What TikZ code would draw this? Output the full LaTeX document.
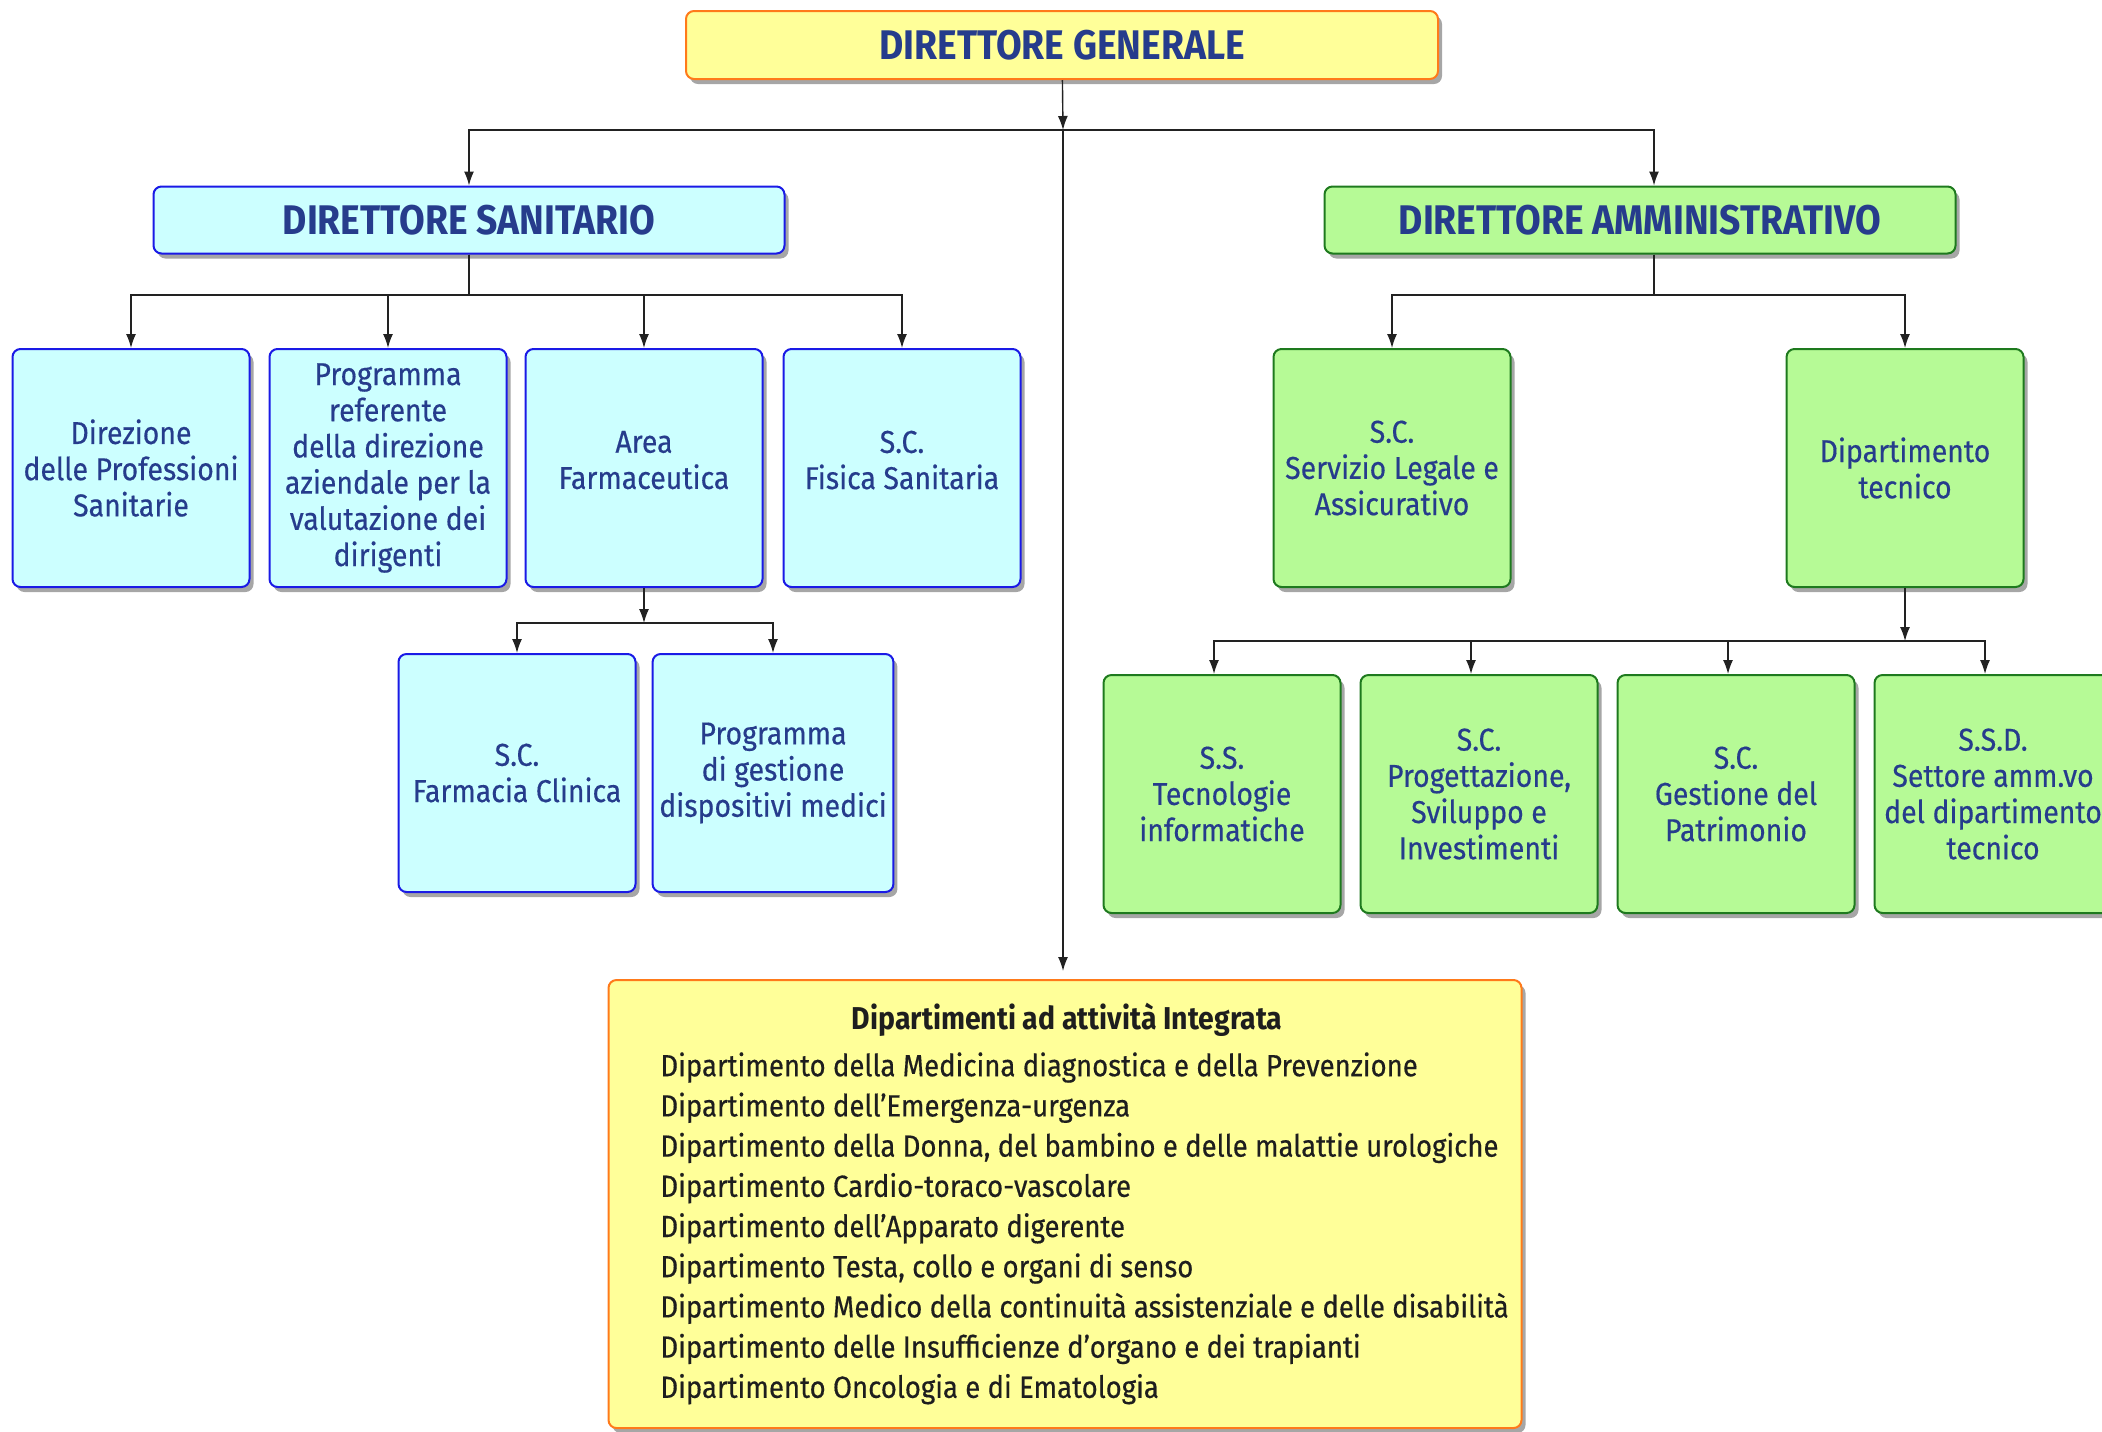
\documentclass[tikz,border=0pt]{standalone}
\usepackage{fontspec}
\setmainfont{Fira Sans}[FakeStretch=0.9, UprightFeatures={FakeBold=0.4}]
\usetikzlibrary{arrows.meta,shadows}

\definecolor{tblue}{HTML}{263C8C}
\definecolor{tdark}{HTML}{1E1E1E}
\definecolor{lineclr}{HTML}{222222}
\definecolor{cfill}{HTML}{CCFFFF}
\definecolor{cborder}{HTML}{1A1AE6}
\definecolor{gfill}{HTML}{B6FA96}
\definecolor{gborder}{HTML}{1E7A1E}
\definecolor{yfill}{HTML}{FFFF99}
\definecolor{yborder}{HTML}{FF7A1A}

\tikzset{
  box/.style={rectangle, rounded corners=4pt, line width=1pt, align=center,
    text=tblue, font=\fontsize{15.8}{18.1}\selectfont,
    drop shadow={shadow xshift=2pt, shadow yshift=-2.5pt, fill=black, opacity=0.35}},
  cbox/.style={box, draw=cborder, fill=cfill, minimum width=118.5pt, minimum height=119pt},
  gbox/.style={box, draw=gborder, fill=gfill, minimum width=118.5pt, minimum height=119pt},
  headbox/.style={box, minimum width=315.5pt, minimum height=33.5pt,
    font=\fontsize{20.7}{24}\selectfont\bfseries},
  arr/.style={-{Latex[length=7pt,width=5pt]}, line width=0.7pt, draw=lineclr},
}

\begin{document}
\begin{tikzpicture}[x=0.5pt,y=-0.5pt]
    \useasboundingbox (0,0) rectangle (2102,1431);
    %% top level
    \node[headbox, draw=yborder, fill=yfill, minimum width=376pt, minimum height=34pt] (dg) at (1062,45) {DIRETTORE GENERALE};
    \node[headbox, draw=cborder, fill=cfill] (ds) at (469,220) {DIRETTORE SANITARIO};
    \node[headbox, draw=gborder, fill=gfill] (da) at (1640,220) {DIRETTORE AMMINISTRATIVO};
    %% area sanitaria
    \node[cbox] (dps) at (131,468) {Direzione\\delle Professioni\\Sanitarie};
    \node[cbox] (prd) at (388,468) {Programma\\referente\\della direzione\\aziendale per la\\valutazione dei\\dirigenti};
    \node[cbox] (afa) at (644,468) {Area\\Farmaceutica\\[-10pt]\mbox{}};
    \node[cbox] (sfs) at (902,468) {S.C.\\Fisica Sanitaria\\[-10pt]\mbox{}};
    \node[cbox] (sfc) at (517,773) {S.C.\\Farmacia Clinica};
    \node[cbox] (pgd) at (773,773) {Programma\\di gestione\\dispositivi medici};
    %% area amministrativa
    \node[gbox] (slg) at (1392,468) {S.C.\\Servizio Legale e\\Assicurativo};
    \node[gbox] (dtc) at (1905,468) {Dipartimento\\tecnico};
    \node[gbox] (sti) at (1222,794) {S.S.\\Tecnologie\\informatiche};
    \node[gbox] (psi) at (1479,794) {S.C.\\Progettazione,\\Sviluppo e\\Investimenti};
    \node[gbox] (gpa) at (1736,794) {S.C.\\Gestione del\\Patrimonio};
    \node[gbox] (ssd) at (1993,794) {S.S.D.\\Settore amm.vo\\del dipartimento\\tecnico};
    %% dipartimenti integrati
    \node[box, draw=yborder, fill=yfill, minimum width=456.5pt, minimum height=224pt] (dai) at (1065,1204) {};
    \node[text=tdark, font=\fontsize{15.8}{18}\selectfont\bfseries] (daih) at (1067,1020) {Dipartimenti ad attività Integrata};
    \foreach \t [count=\i] in {Dipartimento della Medicina diagnostica e della Prevenzione,
        Dipartimento dell’Emergenza-urgenza,
        {Dipartimento della Donna, del bambino e delle malattie urologiche},
        Dipartimento Cardio-toraco-vascolare,
        Dipartimento dell’Apparato digerente,
        {Dipartimento Testa, collo e organi di senso},
        Dipartimento Medico della continuità assistenziale e delle disabilità,
        Dipartimento delle Insufficienze d’organo e dei trapianti,
        Dipartimento Oncologia e di Ematologia}
        \node[anchor=base west, inner sep=0pt, text=tdark, font=\fontsize{15.3}{18}\selectfont] (l\i) at (660,1036+40.2*\i) {\t};
    %% connectors
    \coordinate (b1) at (1063,130);
    \coordinate (b2) at (469,295);
    \coordinate (b3) at (1654,295);
    \coordinate (b4) at (644,623);
    \coordinate (b5) at (1905,641);
    \draw[arr] (dg) -- (b1);
    \draw[arr] (b1) -| (ds.north);
    \draw[arr] (b1) -| ([xshift=7pt]da.north);
    \draw[arr, shorten >=4pt] (b1) -- (b1 |- dai.north);
    \foreach \n in {dps,prd,afa,sfs}
        \draw[arr] (ds.south) -- (b2) -| (\n.north);
    \draw[arr] (afa.south) -- (b4);
    \foreach \n in {sfc,pgd}
        \draw[arr] (b4) -| (\n.north);
    \foreach \n in {slg,dtc}
        \draw[arr] (b3 |- da.south) -- (b3) -| (\n.north);
    \draw[arr] (dtc.south) -- (b5);
    \foreach \n in {sti,psi,gpa,ssd}
        \draw[arr] (b5) -| ([xshift=-4pt]\n.north);
\end{tikzpicture}
\end{document}
